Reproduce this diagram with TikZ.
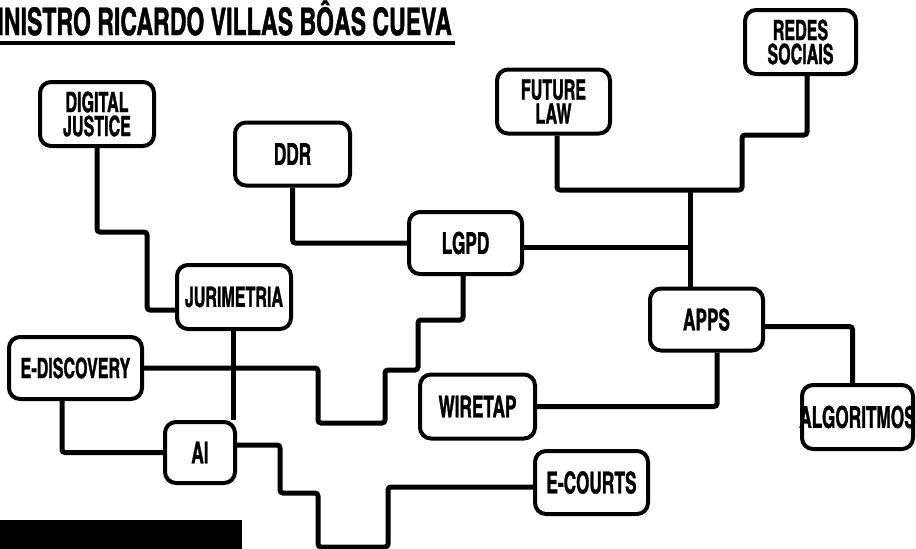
\documentclass[tikz,border=0pt]{standalone}
\usepackage{fontspec}
\setmainfont{texgyreheroscn}[Extension=.otf, UprightFont=*-bold, BoldFont=*-bold, FakeStretch=0.70, FakeBold=1]
\newfontfamily\titlefont{texgyreheroscn}[Extension=.otf, UprightFont=*-bold, BoldFont=*-bold, FakeStretch=0.74, FakeBold=1]
\begin{document}
\begin{tikzpicture}[x=1pt,y=-1pt]
\tikzset{
  box/.style={draw, line width=4pt, rounded corners=11pt, inner sep=0pt, align=center, fill=white,
    font=\fontsize{30}{26}\selectfont},
  twoline/.style={font=\fontsize{28}{24}\selectfont},
  link/.style={line width=5pt, rounded corners=3pt},
  bar/.style={fill=black},
}
\useasboundingbox (0,0) rectangle (916,549);
\clip (0,0) rectangle (916,549);
% title
\node[anchor=base east, inner sep=0pt, font=\titlefont\fontsize{38}{38}\selectfont] (title) at (452,35) {MINISTRO RICARDO VILLAS BÔAS CUEVA};
\draw[line width=4pt] (0,43) -- (455,43);
% boxes
\node[box, twoline, minimum width=114pt, minimum height=64pt] (dj) at (97,114) {DIGITAL\\JUSTICE};
\node[box, minimum width=115pt, minimum height=63pt] (ddr) at (292.5,154) {DDR};
\node[box, minimum width=113pt, minimum height=62pt] (lgpd) at (465.5,243) {LGPD};
\node[box, twoline, minimum width=113pt, minimum height=64pt] (fut) at (553.5,101.5) {FUTURE\\LAW};
\node[box, twoline, minimum width=111pt, minimum height=64pt] (redes) at (800.5,42) {REDES\\SOCIAIS};
\node[box, twoline, minimum width=114pt, minimum height=64pt] (jur) at (234,297) {JURIMETRIA};
\node[box, twoline, minimum width=133pt, minimum height=62pt] (edisc) at (75.5,368) {E-DISCOVERY};
\node[box, minimum width=70pt, minimum height=61pt] (ai) at (200,452.5) {AI};
\node[box, minimum width=115pt, minimum height=64pt] (wire) at (477.5,406.5) {WIRETAP};
\node[box, minimum width=113pt, minimum height=62pt] (apps) at (706.5,319.5) {APPS};
\node[box, minimum width=111pt, minimum height=64pt] (algo) at (857.5,417) {\makebox[0pt][c]{ALGORITMOS}};
\node[box, minimum width=113pt, minimum height=63pt] (ecourts) at (591.5,482.5) {E-COURTS};
% hub coordinates
\coordinate (ht) at (690,190);
\coordinate (hm) at (690,247);
% connectors
\draw[link] (dj.south) |- (147,232) |- ([yshift=-13pt]jur.west);
\draw[link] (ddr.south) |- (lgpd.west);
\draw[link] (lgpd.east |- hm) -- (hm);
\draw[link] ([xshift=3.5pt]fut.south) |- (742,190) -- (742,135) -| ([xshift=6.5pt]redes.south);
\draw[link] (ht) -- (ht |- apps.north);
\draw[link] ([yshift=-7pt]apps.east) -| ([xshift=-5pt]algo.north);
\draw[link] ([xshift=10.5pt]apps.south) |- (wire.east);
\draw[link] ([xshift=-2.5pt]lgpd.south) |- (418,320) |- (385,370) |- (318,423) |- (edisc.east);
\draw[link] ([xshift=-1pt]jur.south) -- ([xshift=-1pt]jur.south |- ai.north);
\draw[link] ([xshift=-13.5pt]edisc.south) |- (ai.west);
\draw[link] ([yshift=7.5pt]ai.east) -| (280,493) -| (318,547) -| (388,487) -- ([yshift=-4.5pt]ecourts.west);
% black bar
\fill[bar] (0,520) rectangle (242,549);
\end{tikzpicture}
\end{document}
